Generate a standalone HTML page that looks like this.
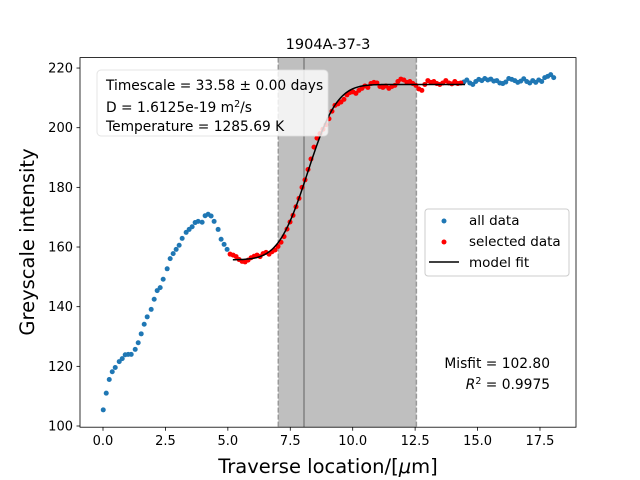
<!DOCTYPE html>
<html><head><meta charset="utf-8"><style>
html,body{margin:0;padding:0;background:#fff;}
svg{display:block;font-family:"DejaVu Sans","Liberation Sans",sans-serif;}
</style></head><body>
<svg id="chart" width="640" height="480" viewBox="0 0 640 480" xmlns="http://www.w3.org/2000/svg">
<rect x="0" y="0" width="640" height="480" fill="#fff"/>
<g id="shade"></g>
<g id="ticks"></g>
<g id="marks"></g>
<rect x="80" y="57.6" width="496" height="369.6" fill="none" stroke="#000" stroke-width="0.8"/>
<text x="328" y="49" font-size="14.5" text-anchor="middle">1904A-37-3</text>
<text x="328" y="473" font-size="19.5" text-anchor="middle">Traverse location/[<tspan font-style="italic">μ</tspan>m]</text>
<text transform="translate(34,242) rotate(-90)" font-size="19.5" text-anchor="middle">Greyscale intensity</text>
<g>
<rect x="97" y="70" width="231" height="66" rx="4" fill="#fff" fill-opacity="0.8" stroke="#ddd" stroke-opacity="0.8"/>
<text x="106" y="90" font-size="13.8">Timescale = 33.58 ± 0.00 days</text>
<text x="106" y="112" font-size="13.8">D = 1.6125e-19 m<tspan font-size="9.5" dy="-5">2</tspan><tspan dy="5">/s</tspan></text>
<text x="106" y="131" font-size="13.8">Temperature = 1285.69 K</text>
</g>
<g>
<rect x="425" y="209" width="144" height="67" rx="3" fill="#fff" fill-opacity="0.8" stroke="#ccc"/>
<circle cx="444" cy="221" r="2.5" fill="#1f77b4"/>
<text x="469" y="225" font-size="13.5">all data</text>
<circle cx="444" cy="242" r="2.5" fill="#ff0000"/>
<text x="469" y="246" font-size="13.5">selected data</text>
<line x1="429" y1="262" x2="459" y2="262" stroke="#000" stroke-width="1.5"/>
<text x="469" y="267" font-size="13.5">model fit</text>
</g>
<text x="550" y="368" font-size="13.8" text-anchor="end">Misfit = 102.80</text>
<text x="550" y="389" font-size="13.8" text-anchor="end"><tspan font-style="italic">R</tspan><tspan font-size="9.5" dy="-5">2</tspan><tspan dy="5"> = 0.9975</tspan></text>
</svg>
<script>
const xTicks=[0,2.5,5,7.5,10,12.5,15,17.5];
const xTickLabels=["0.0","2.5","5.0","7.5","10.0","12.5","15.0","17.5"];
const yTicks=[100,120,140,160,180,200,220];
const yTickLabels=["100","120","140","160","180","200","220"];
const allX=[0.01,0.13,0.25,0.37,0.49,0.65,0.77,0.89,1.01,1.13,1.29,1.41,1.53,1.65,1.77,1.93,2.05,2.17,2.29,2.41,2.57,2.69,2.81,2.93,3.05,3.17,3.33,3.45,3.57,3.69,3.81,3.97,4.09,4.21,4.33,4.45,4.61,4.73,4.85,4.97,
14.45,14.57,14.69,14.81,14.93,15.05,15.17,15.29,15.41,15.53,15.65,15.77,15.89,16.01,16.13,16.25,16.37,16.49,16.61,16.73,16.85,16.97,17.09,17.21,17.33,17.45,17.57,17.69,17.81,17.93,18.05];
const allY=[105.4,111.0,115.6,118.2,119.6,121.6,122.6,123.9,124.0,124.0,125.7,127.9,130.9,134.1,136.6,139.1,142.5,145.4,146.4,149.2,152.7,156.1,157.8,159.2,160.6,162.9,164.9,165.9,166.8,168.2,168.6,168.3,170.5,171.0,170.4,168.6,165.9,162.6,160.9,159.2,
215.3,216.0,215.0,214.5,215.5,216.2,215.8,216.5,216.0,216.3,215.6,215.8,215.0,214.8,215.3,216.5,216.2,215.8,215.2,215.6,216.4,215.5,215.0,215.8,215.2,216.0,215.5,216.8,217.2,217.8,216.8];
const selX=[5.09,5.21,5.33,5.45,5.57,5.69,5.81,5.93,6.05,6.17,6.29,6.41,6.53,6.65,6.77,6.89,7.01,7.13,7.25,7.37,7.49,7.61,7.73,7.85,7.97,8.09,8.21,8.33,8.45,8.57,8.69,8.81,8.93,9.05,9.17,9.29,9.41,9.53,9.65,9.77,9.89,10.01,10.13,10.25,10.37,10.49,10.61,10.73,10.85,10.97,11.09,11.21,11.33,11.45,11.57,11.69,11.81,11.93,12.05,12.17,12.29,12.41,12.53,12.65,12.77,12.89,13.01,13.13,13.25,13.37,13.49,13.61,13.73,13.85,13.97,14.09,14.21,14.33];
const selY=[157.6,157.3,156.8,155.8,155.2,155.0,155.6,156.4,156.9,157.3,156.8,157.8,158.2,157.6,158.4,159.0,160.2,161.6,163.5,166.0,168.4,170.6,173.5,176.3,180.0,182.5,186.0,189.5,193.5,196.5,198.0,199.5,201.0,203.0,205.5,207.5,208.0,208.6,209.5,211.0,211.8,212.0,211.5,212.5,213.2,214.0,213.5,214.8,215.2,215.0,213.8,213.5,214.0,213.2,213.8,214.2,215.5,216.3,216.0,215.2,215.5,214.8,214.2,213.0,212.5,214.5,215.8,215.2,215.5,214.8,214.5,215.0,215.8,215.0,214.7,215.5,214.8,215.0];
const fitLow=155.7, fitHigh=214.5, fitCenter=8.2, fitWidth=1.3, fitStart=5.2, fitEnd=14.5;
const spanStart=7.02, spanEnd=12.55, interfaceX=8.05;

const X=v=>103+(v-0)*24.97;
const Y=v=>426-(v-100)*2.983;
const NS="http://www.w3.org/2000/svg";
function mk(tag,attrs,parent){const e=document.createElementNS(NS,tag);for(const k in attrs)e.setAttribute(k,attrs[k]);parent.appendChild(e);return e;}
function erf(x){const s=x<0?-1:1;x=Math.abs(x);const t=1/(1+0.3275911*x);const y=1-(((((1.061405429*t-1.453152027)*t)+1.421413741)*t-0.284496736)*t+0.254829592)*t*Math.exp(-x*x);return s*y;}

const shade=document.getElementById('shade');
const sr=mk('rect',{x:X(spanStart),y:57.6,width:X(spanEnd)-X(spanStart),height:369.6,fill:'#bfbfbf'},shade);


[spanStart,spanEnd].forEach(v=>{const l=mk('line',{x1:X(v),x2:X(v),y1:57.6,y2:427.2,stroke:'#999',"stroke-width":1.5,"stroke-dasharray":"5,2"},shade);

});
const il=mk('line',{x1:X(interfaceX),x2:X(interfaceX),y1:57.6,y2:427.2,stroke:'#808080',"stroke-width":1.5},shade);



const tg=document.getElementById('ticks');
xTicks.forEach((v,i)=>{mk('line',{x1:X(v),x2:X(v),y1:427.2,y2:430.7,stroke:'#000',"stroke-width":0.8},tg);
const t=mk('text',{x:X(v),y:445,"font-size":13,"text-anchor":"middle"},tg);t.textContent=xTickLabels[i];

});
yTicks.forEach((v,i)=>{mk('line',{x1:76.5,x2:80,y1:Y(v),y2:Y(v),stroke:'#000',"stroke-width":0.8},tg);
const t=mk('text',{x:73,y:Y(v)+4.5,"font-size":13,"text-anchor":"end"},tg);t.textContent=yTickLabels[i];

});

const mg=document.getElementById('marks');
allX.forEach((v,i)=>{const c=mk('circle',{cx:X(v),cy:Y(allY[i]),r:2.5,fill:'#1f77b4'},mg);

});
selX.forEach((v,i)=>{const c=mk('circle',{cx:X(v),cy:Y(selY[i]),r:2.5,fill:'#ff0000'},mg);

});
let d='';
for(let x=fitStart;x<=fitEnd+1e-9;x+=0.05){const y=fitLow+(fitHigh-fitLow)/2*(1+erf((x-fitCenter)/fitWidth));d+=(d?'L':'M')+X(x).toFixed(2)+','+Y(y).toFixed(2);}
const fl=mk('path',{d:d,fill:'none',stroke:'#000',"stroke-width":1.5},mg);


</script>
</body></html>
